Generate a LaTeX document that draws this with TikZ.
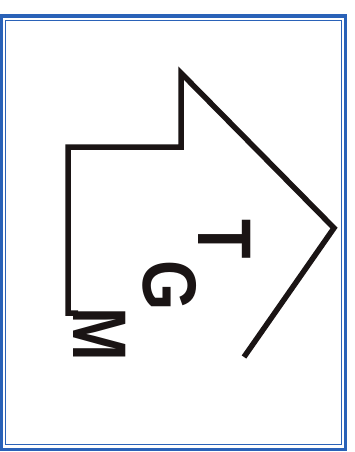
\documentclass[tikz,border=0pt]{standalone}
\usepackage{fontspec}
\setmainfont{Liberation Sans}
\definecolor{frameblue}{HTML}{2A62B8}
\definecolor{inkblack}{HTML}{1A1414}

\begin{document}
\begin{tikzpicture}[
    x=1pt, y=-1pt,
    outline/.style={draw=inkblack, line width=5.5pt, line join=miter, line cap=butt},
    letter/.style={text=inkblack, inner sep=0pt, rotate=-90, xscale=0.85,
      font=\fontsize{76}{76}\selectfont\bfseries},
  ]

  % Page and frame
  \useasboundingbox (0,0) rectangle (355,452);
  \fill[white] (0,0) rectangle (355,452);
  \draw[frameblue, line width=3.5pt] (1.5,16) rectangle (345.5,449.5);
  \draw[frameblue, line width=1pt] (5,20.5) rectangle (341.5,444.5);

  % Arrow outline
  \coordinate (foot) at (78,313);
  \coordinate (heel) at (68,313);
  \coordinate (corner) at (68,147);
  \coordinate (step) at (181,147);
  \coordinate (top) at (181,73);
  \coordinate (tip) at (334,228);
  \coordinate (tail) at (244,357);
  \draw[outline] (foot) -- (heel) -- (corner) -- (step) -- (top) -- (tip) -- (tail);

  % Letters
  \node[letter] (m) at (100,334) {M};
  \node[letter] (g) at (170,286) {G};
  \node[letter] (t) at (225,239) {T};

\end{tikzpicture}
\end{document}
